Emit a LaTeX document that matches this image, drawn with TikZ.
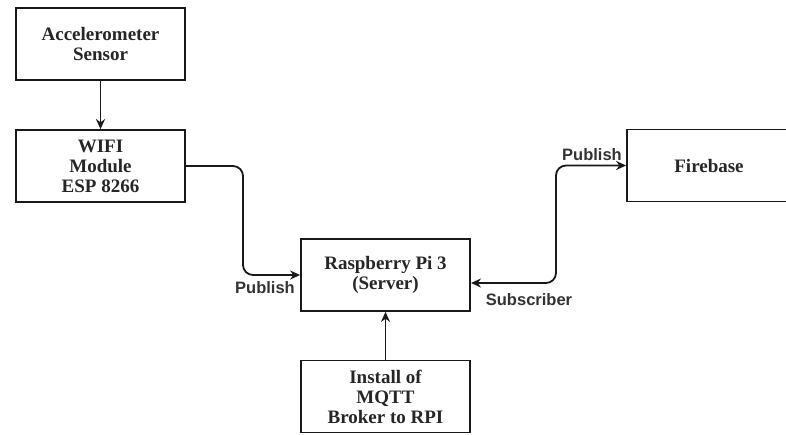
\documentclass[tikz,border=0pt]{standalone}
\usepackage{fontspec}
\setmainfont{Liberation Serif}
\newfontfamily\lblfont{Liberation Sans}
\usetikzlibrary{arrows.meta}
\begin{document}
\begin{tikzpicture}[x=1pt,y=-1pt,
  box/.style={draw=black!90,line width=1.8pt,minimum width=169pt,minimum height=72pt,align=center,
    font=\fontsize{19}{20}\selectfont\bfseries,inner sep=0pt,text=black!85},
  conn/.style={draw=black!90,line width=1.8pt,rounded corners=10pt},
  tip/.style={-{Stealth[length=10pt,width=9pt]}},
  lbl/.style={font=\lblfont\fontsize{16.5}{18}\selectfont\bfseries,text=black!80,inner sep=0pt}]
\useasboundingbox (0,0) rectangle (786,434);
\node[box] (acc) at (100.5,44) {Accelerometer\\Sensor};
\node[box] (wifi) at (100.5,166) {WIFI\\Module\\ESP 8266};
\node[box] (rpi) at (385.5,275) {Raspberry Pi 3\\(Server)};
\node[box] (mqtt) at (385.5,396.5) {Install of\\MQTT\\Broker to RPI};
\node[box,minimum width=164pt] (fb) at (709,165.5) {Firebase};
\coordinate (rpiR) at (471,283);
\coordinate (bend) at (556,283);
\draw[conn,tip] (acc) -- (wifi);
\draw[conn,tip] (wifi.east) -| (243,240) |- (rpi.west);
\draw[conn,tip] (mqtt) -- (rpi);
\draw[conn,{Stealth[length=10pt,width=9pt]}-{Stealth[length=10pt,width=9pt]}] (rpiR) -| (bend |- fb.west) -- (fb.west);
\node[lbl] (l1) at (265,288) {Publish};
\node[lbl] (l2) at (592,155) {Publish};
\node[lbl] (l3) at (529,300) {Subscriber};
\end{tikzpicture}
\end{document}
